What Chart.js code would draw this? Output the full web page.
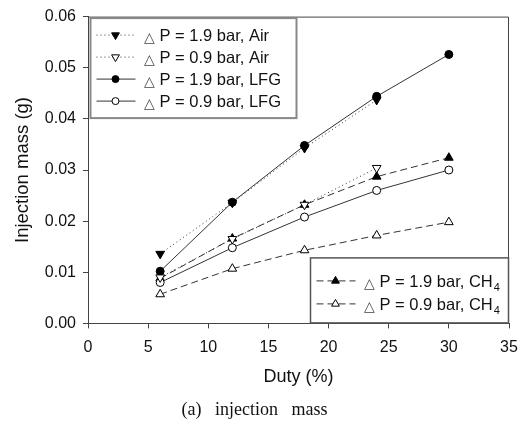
<!DOCTYPE html>
<html>
<head>
<meta charset="utf-8">
<script src="https://cdn.jsdelivr.net/npm/chart.js@4/dist/chart.umd.min.js"></script>
<style>
  html, body { margin: 0; padding: 0; background: #fff; }
</style>
</head>
<body>
<canvas id="massChart" width="532" height="423"></canvas>
<script>
const duty = [6, 12, 18, 24, 30];
const airHigh = [0.0136, 0.0236, 0.0343, 0.0437];
const airLow = [0.0090, 0.0165, 0.0232, 0.0304];
const lfgHigh = [0.0102, 0.0237, 0.0348, 0.0444, 0.0526];
const lfgLow = [0.0080, 0.0148, 0.0208, 0.0260, 0.0300];
const ch4High = [0.0088, 0.0166, 0.0232, 0.0287, 0.0324];
const ch4Low = [0.0057, 0.0107, 0.0143, 0.0172, 0.0198];
const yTicks = [0, 0.01, 0.02, 0.03, 0.04, 0.05, 0.06];

const pts = vals => vals.map((v, i) => ({ x: duty[i], y: v }));
const FONT = "'Liberation Sans', Arial, sans-serif";

function series(label, vals, style, fill, rot, dash) {
  return {
    label: label,
    data: pts(vals),
    borderColor: '#333',
    borderWidth: 1,
    borderDash: dash,
    pointStyle: style,
    pointRotation: rot,
    pointRadius: style === 'circle' ? 4 : 5,
    pointBackgroundColor: fill ? '#000' : '#fff',
    pointBorderColor: '#000',
    pointBorderWidth: 1,
    fill: false,
    tension: 0
  };
}

const datasets = [
  series('P = 1.9 bar, Air', airHigh, 'triangle', true, 180, [1, 3]),
  series('P = 0.9 bar, Air', airLow, 'triangle', false, 180, [1, 3]),
  series('P = 1.9 bar, LFG', lfgHigh, 'circle', true, 0, []),
  series('P = 0.9 bar, LFG', lfgLow, 'circle', false, 0, []),
  series('P = 1.9 bar, CH', ch4High, 'triangle', true, 0, [7, 4]),
  series('P = 0.9 bar, CH', ch4Low, 'triangle', false, 0, [7, 4])
];

// frame around the plot and the two legend boxes
const boxes = {
  id: 'boxes',
  afterDatasetsDraw(chart) {
    const ctx = chart.ctx;
    const a = chart.chartArea;
    ctx.save();
    ctx.strokeStyle = '#444';
    ctx.lineWidth = 1;
    ctx.beginPath();
    ctx.moveTo(a.left, a.top + 0.5);
    ctx.lineTo(a.right - 0.5, a.top + 0.5);
    ctx.lineTo(a.right - 0.5, a.bottom);
    ctx.stroke();

    function legendBox(x, y, w, h, rows, color, lw) {
      ctx.fillStyle = '#fff';
      ctx.fillRect(x, y, w, h);
      ctx.strokeStyle = color;
      ctx.lineWidth = lw;
      ctx.strokeRect(x, y, w, h);
      rows.forEach(r => {
        const ds = chart.data.datasets[r.index];
        const cy = y + r.dy;
        const lx0 = x + 6, lx1 = x + 45, mx = x + 25;
        ctx.save();
        ctx.strokeStyle = ds.borderColor;
        ctx.lineWidth = 1;
        ctx.setLineDash(ds.borderDash);
        ctx.beginPath();
        ctx.moveTo(lx0, cy);
        ctx.lineTo(lx1, cy);
        ctx.stroke();
        ctx.restore();
        ctx.save();
        ctx.fillStyle = ds.pointBackgroundColor;
        ctx.strokeStyle = ds.pointBorderColor;
        ctx.lineWidth = 1;
        Chart.helpers.drawPoint(ctx, {
          pointStyle: ds.pointStyle,
          rotation: ds.pointRotation,
          radius: ds.pointStyle === 'circle' ? 3.5 : 4.5,
          borderWidth: 1
        }, mx, cy);
        ctx.restore();
        ctx.fillStyle = '#444';
        ctx.textBaseline = 'alphabetic';
        ctx.font = '14px ' + FONT;
        ctx.fillText('\u25B3', x + 53, cy + 7);
        ctx.fillStyle = '#111';
        ctx.font = '16.5px ' + FONT;
        ctx.fillText(ds.label, x + 69, cy + 6);
        if (r.sub) {
          const w = ctx.measureText(ds.label).width;
          ctx.font = '11px ' + FONT;
          ctx.fillText(r.sub, x + 69 + w + 1, cy + 10);
        }
      });
    }

    legendBox(a.left + 2.5, a.top + 1.5, 206, 100, [
      { index: 0, dy: 17 }, { index: 1, dy: 39 },
      { index: 2, dy: 61 }, { index: 3, dy: 83 }
    ], '#888', 2);
    legendBox(a.left + 222.5, a.bottom - 65.5, 198, 65, [
      { index: 4, dy: 23, sub: '4' }, { index: 5, dy: 46, sub: '4' }
    ], '#555', 1.5);
    ctx.restore();
  }
};

new Chart(document.getElementById('massChart').getContext('2d'), {
  type: 'line',
  data: { datasets: datasets },
  options: {
    responsive: false,
    animation: false,
    layout: { padding: { left: 0, right: 23, top: 15, bottom: 0 } },
    scales: {
      x: {
        type: 'linear',
        min: 0,
        max: 35,
        afterFit: s => { s.height = 72; },
        ticks: { stepSize: 5, color: '#111', font: { family: FONT, size: 16 }, padding: 10 },
        grid: { drawOnChartArea: false, tickLength: 5, color: '#444' },
        border: { color: '#444' },
        title: { display: true, text: 'Duty (%)', color: '#111', font: { family: FONT, size: 18 }, padding: { top: 0, bottom: 7.5 } }
      },
      y: {
        min: 0,
        max: 0.06,
        afterFit: s => { s.width = 88; },
        afterBuildTicks: s => { s.ticks = yTicks.map(v => ({ value: v })); },
        ticks: { color: '#111', font: { family: FONT, size: 16 }, padding: 7, callback: v => v.toFixed(2) },
        grid: { drawOnChartArea: false, tickLength: 5, color: '#444' },
        border: { color: '#444' },
        title: { display: true, text: 'Injection mass (g)', color: '#111', font: { family: FONT, size: 18.5 }, padding: { top: 12, bottom: 0 } }
      }
    },
    plugins: {
      legend: { display: false },
      tooltip: { enabled: false },
      title: {
        display: true,
        position: 'bottom',
        text: '(a)   injection   mass',
        color: '#111',
        font: { family: "'Liberation Serif', 'Times New Roman', serif", size: 18, weight: 'normal' },
        padding: { top: 4, bottom: 2 }
      }
    }
  },
  plugins: [boxes]
});
</script>
</body>
</html>
